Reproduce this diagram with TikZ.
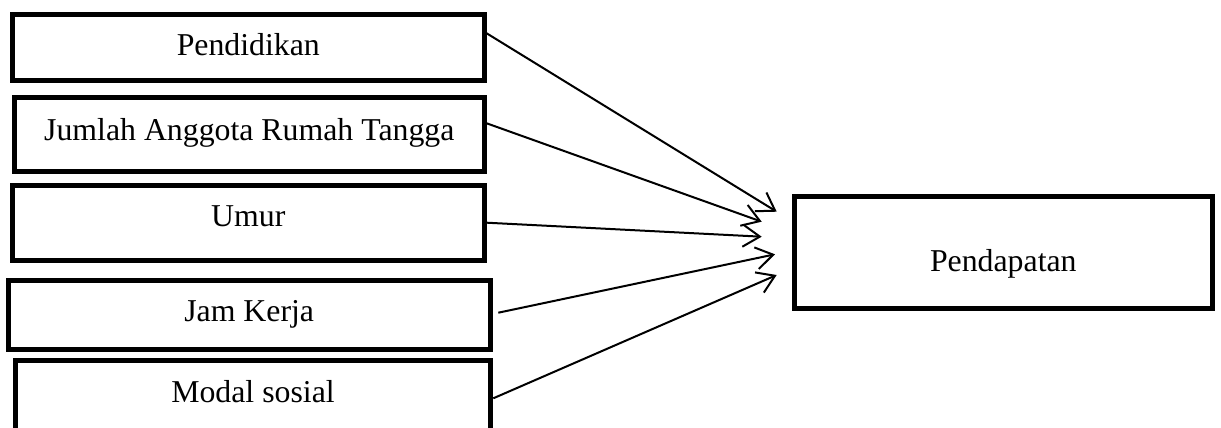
\documentclass[tikz,border=0pt]{standalone}
\usepackage{fontspec}
\setmainfont{Liberation Serif}
\usetikzlibrary{arrows.meta}
\tikzset{
  box/.style={draw, line width=5pt, inner sep=0pt, text depth=0pt,
    font=\fontsize{31.8pt}{38pt}\selectfont},
  arr/.style={line width=2pt, -{Straight Barb[length=17pt, width=22pt, line width=2pt]}}
}
\begin{document}
\begin{tikzpicture}[x=1pt, y=-1pt]
\clip (0,0) rectangle (1221,428);
\fill[white] (0,0) rectangle (1221,428);
\node[box, minimum width=471.7pt, minimum height=66.3pt, text height=16.6pt] (b1) at (248.3,47.7) {Pendidikan};
\node[box, minimum width=469.7pt, minimum height=74pt, text height=11pt] (b2) at (249.3,134.5) {Jumlah Anggota Rumah Tangga};
\node[box, minimum width=471.7pt, minimum height=75pt, text height=6.8pt] (b3) at (248.3,223.3) {Umur};
\node[box, minimum width=482pt, minimum height=69pt, text height=11.4pt] (b4) at (249.2,315.3) {Jam Kerja};
\node[box, minimum width=474.4pt, minimum height=80pt, text height=2.4pt] (b5) at (253,400.8) {Modal sosial};
\node[box, minimum width=418.3pt, minimum height=111.7pt, text height=37.4pt] (out) at (1003.3,252.3) {Pendapatan};
\coordinate (e1) at (776.7,211.7);
\coordinate (e2) at (761.7,221.7);
\coordinate (e3) at (761.7,236.7);
\coordinate (e4) at (775,254.3);
\coordinate (e5) at (776.7,275);
\draw[arr] ([yshift=14.4pt]b1.east) -- (e1);
\draw[arr] ([yshift=11.2pt]b2.east) -- (e2);
\draw[arr] ([yshift=0.6pt]b3.east) -- (e3);
\draw[arr] ([xshift=5.6pt,yshift=2.6pt]b4.east) -- (e4);
\draw[arr] ([xshift=0.6pt,yshift=2.5pt]b5.east) -- (e5);
\end{tikzpicture}
\end{document}
